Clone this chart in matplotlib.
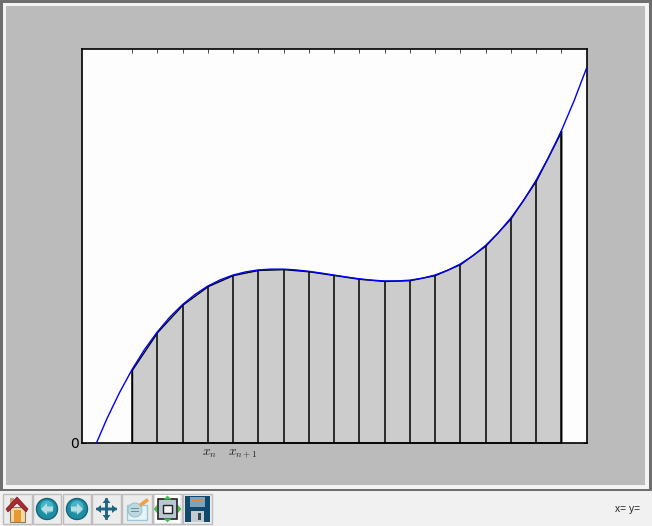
import matplotlib
matplotlib.use("Agg")
import matplotlib.pyplot as plt
from matplotlib.patches import Rectangle, Polygon, Circle, FancyArrow

# ---- data ----
curve_x = [0.3, 0.5, 0.75, 1, 1.25, 1.5, 1.75, 2, 2.25, 2.5, 2.75, 3, 3.25, 3.5, 3.75, 4,
           4.25, 4.5, 4.75, 5, 5.25, 5.5, 5.75, 6, 6.25, 6.5, 6.75, 7, 7.25, 7.5, 7.75, 8,
           8.25, 8.5, 8.75, 9, 9.25, 9.5, 9.75, 10]
curve_y = [0, 11.9, 25.2, 37, 47.3, 56.1, 63.7, 70, 75.2, 79.4, 82.6, 85, 86.6, 87.6, 88, 88,
           87.6, 86.9, 86, 85, 84, 83.1, 82.4, 82, 82, 82.4, 83.4, 85, 87.4, 90.6, 94.8, 100,
           106.3, 113.9, 122.7, 133, 144.8, 158.1, 173.2, 190]
bar_edges = [1, 1.5, 2, 2.5, 3, 3.5, 4, 4.5, 5, 5.5, 6, 6.5, 7, 7.5, 8, 8.5, 9, 9.5]
bar_heights = [37, 56.1, 70, 79.4, 85, 87.6, 88, 86.9, 85, 83.1, 82, 82.4, 85, 90.6, 100, 113.9, 133, 158.1]
y_ticks = [0]
y_tick_labels = ["0"]
x_labels = [r"$x_n$", r"$x_{n+1}$"]
x_label_pos = [2.53, 3.19]

W, H = 652, 526
plt.rcParams["mathtext.fontset"] = "cm"
fig = plt.figure(figsize=(W / 100, H / 100), dpi=100, facecolor="#f1f1f1")

# ---- window chrome, in pixel coordinates ----
bg = fig.add_axes([0, 0, 1, 1], zorder=0)
bg.set_xlim(0, W)
bg.set_ylim(H, 0)
bg.axis("off")
bg.add_patch(Rectangle((0, 0), W, 491, fc="#6e6e6e", ec="none"))
bg.add_patch(Rectangle((3, 3), 646, 486, fc="#f4f4f4", ec="none"))
bg.add_patch(Rectangle((6, 6), 639, 479, fc="#bbbbbb", ec="none"))

buttons = [(3, 29), (33, 28), (63, 28), (92, 29), (122, 30), (153, 29), (183, 29)]
for bx, bw in buttons:
    bg.add_patch(Rectangle((bx, 494), bw, 30, fc="#ececec", ec="#bdbdbd", lw=1))

# home
bg.add_patch(Rectangle((10, 507), 15, 15, fc="#f3d9a8", ec="#8a7a60", lw=0.8))
bg.add_patch(Rectangle((14, 510), 7, 12, fc="#e89a30", ec="none"))
bg.add_patch(Rectangle((10, 498), 4, 8, fc="#c9a070", ec="none"))
bg.add_patch(Polygon([(6, 509), (17, 497), (28, 509), (26, 512), (17, 503), (8, 512)],
                     fc="#a82a35", ec="#7a1a25", lw=0.5))
# back / forward
for cx, sgn in [(47, -1), (77, 1)]:
    bg.add_patch(Circle((cx, 509), 10.5, fc="#1f8ea3", ec="#136577", lw=1))
    bg.add_patch(Circle((cx, 507), 6.5, fc="#45b4c4", ec="none"))
    bg.add_patch(Polygon([(cx + sgn * 6, 509), (cx, 503), (cx, 506.5), (cx - sgn * 6, 506.5),
                          (cx - sgn * 6, 511.5), (cx, 511.5), (cx, 515)], fc="#b5dde3", ec="none"))
# move
mv = "#1f6480"
bg.add_patch(FancyArrow(96, 509, 21, 0, width=2.5, head_width=8, head_length=5,
                        length_includes_head=True, fc=mv, ec="none"))
bg.add_patch(FancyArrow(117, 509, -21, 0, width=2.5, head_width=8, head_length=5,
                        length_includes_head=True, fc=mv, ec="none"))
bg.add_patch(FancyArrow(106.5, 498, 0, 22, width=2.5, head_width=8, head_length=5,
                        length_includes_head=True, fc=mv, ec="none"))
bg.add_patch(FancyArrow(106.5, 520, 0, -22, width=2.5, head_width=8, head_length=5,
                        length_includes_head=True, fc=mv, ec="none"))
# edit
bg.add_patch(Rectangle((127, 505), 20, 15, fc="#e6f3f7", ec="#9cc9d8", lw=1))
bg.add_patch(Circle((135, 510), 7, fc="#bcd9e2", ec="#8fb8c6", lw=0.6))
bg.add_patch(Rectangle((131, 508), 8, 1.2, fc="#6b8f9c", ec="none"))
bg.add_patch(Rectangle((131, 511), 8, 1.2, fc="#6b8f9c", ec="none"))
bg.add_patch(Polygon([(139, 504), (147, 498), (149, 501), (141, 507)], fc="#eda24a", ec="none"))
# configure subplots
bg.add_patch(Rectangle((155, 495), 25, 28, fc="#ffffff", ec="none"))
bg.add_patch(Rectangle((158, 499), 19, 20, fc="#b9c9d4", ec="#222222", lw=1.2))
bg.add_patch(Rectangle((163, 505), 9, 8, fc="#f2f2f2", ec="#222222", lw=1))
for pts in ([(167.5, 495.5), (163.5, 499.5), (171.5, 499.5)],
            [(167.5, 522.5), (163.5, 518.5), (171.5, 518.5)],
            [(157, 505), (157, 513), (153.5, 509)],
            [(178, 505), (178, 513), (181.5, 509)]):
    bg.add_patch(Polygon(pts, fc="#45c04a", ec="none"))
# save
bg.add_patch(Rectangle((185, 496), 25, 26, fc="#10496b", ec="none"))
bg.add_patch(Rectangle((190, 497), 15, 10, fc="#7fa3b8", ec="none"))
bg.add_patch(Rectangle((192, 500), 11, 1.5, fc="#e08a3a", ec="none"))
bg.add_patch(Rectangle((191, 511), 13, 11, fc="#c4ccd2", ec="none"))
bg.add_patch(Rectangle((198, 513), 3, 7, fc="#33485a", ec="none"))

bg.text(640, 509, "x= y=", ha="right", va="center", fontsize=7.4,
        family="Liberation Sans", color="#222222")

# ---- the chart ----
ax = fig.add_axes([81.5 / W, 1 - 442.5 / H, 505 / W, 394 / H], zorder=1, facecolor="#fdfdfd")
ax.set_xlim(0, 10)
ax.set_ylim(0, 200)
ax.fill_between(bar_edges, bar_heights, 0, fc="#cccccc", ec="black", lw=1, zorder=2)
ax.vlines(bar_edges, 0, bar_heights, colors="black", lw=1.1, zorder=2.5)
ax.plot(curve_x, curve_y, color="#0000ff", lw=1, zorder=3)

for s in ax.spines.values():
    s.set_linewidth(1.2)
ax.set_xticks(bar_edges)
ax.set_xticklabels([])
ax.set_yticks(y_ticks)
ax.set_yticklabels(y_tick_labels, fontsize=10, family="DejaVu Sans")
ax.tick_params(axis="x", direction="in", top=True, bottom=True, length=3, width=0.7, color="#444444")
ax.tick_params(axis="y", direction="in", left=True, right=True, length=3, width=0.7, pad=2)
trans = ax.get_xaxis_transform()
for xp, lab in zip(x_label_pos, x_labels):
    ax.text(xp, -0.027, lab, transform=trans, ha="center", va="center", fontsize=9.5, color="#222222")

fig.savefig("out.png", dpi=100, facecolor=fig.get_facecolor())
